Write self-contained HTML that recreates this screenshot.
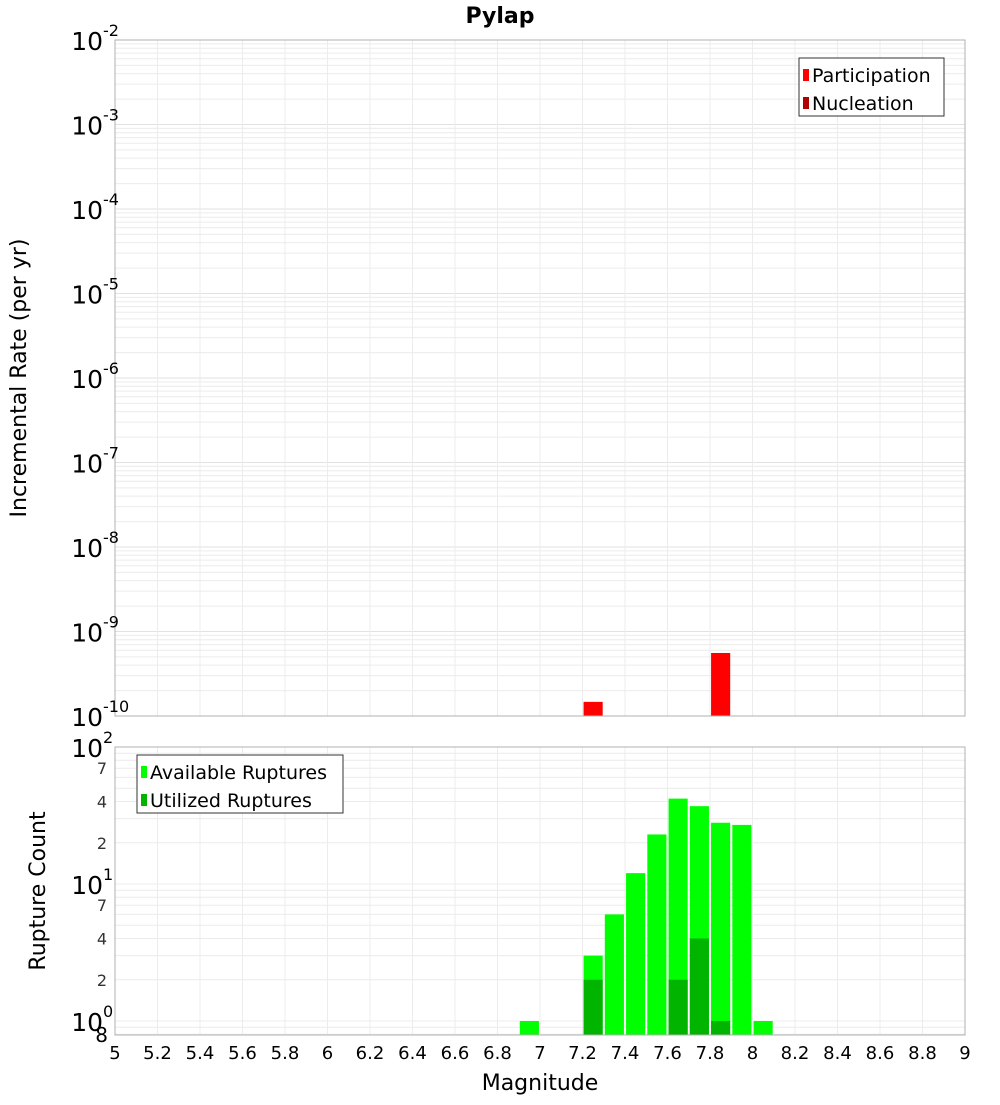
<!DOCTYPE html>
<html><head><meta charset="utf-8"><style>
body{margin:0;background:#fff;}
text{font-family:"DejaVu Sans","Liberation Sans",sans-serif;}
</style></head><body>
<svg id="chart" width="1000" height="1100" xmlns="http://www.w3.org/2000/svg"></svg>
<script>
const topMags=[7.25,7.85];
const topRates=[1.47e-10,5.57e-10];
const availMags=[6.95,7.25,7.35,7.45,7.55,7.65,7.75,7.85,7.95,8.05];
const availCounts=[1,3,6,12,23,42,37,28,27,1];
const utilMags=[7.25,7.65,7.75,7.85];
const utilCounts=[2,2,4,1];
const xTicks=[5,5.2,5.4,5.6,5.8,6,6.2,6.4,6.6,6.8,7,7.2,7.4,7.6,7.8,8,8.2,8.4,8.6,8.8,9];
const topExps=[-2,-3,-4,-5,-6,-7,-8,-9,-10];

const svg=document.getElementById('chart');
const NS='http://www.w3.org/2000/svg';
function mk(tag,attrs,parent){const e=document.createElementNS(NS,tag);for(const k in attrs)e.setAttribute(k,attrs[k]);(parent||svg).appendChild(e);return e;}
const X0=115,X1=965;
const xs=m=>X0+(m-5)/4*(X1-X0);
const T0=40,T1=716;
const ty=v=>T0+(-2-Math.log10(v))*(T1-T0)/8;
const B0=747,BD=137;
const by=v=>B0+(2-Math.log10(v))*BD;
const B1=1035;

let t=mk('text',{x:500,y:23,'text-anchor':'middle','font-size':22,'font-weight':'bold'});t.textContent='Pylap';


let g=mk('g',{});
for(let e=-10;e<-2;e++)for(let k=2;k<=9;k++){const y=ty(k*Math.pow(10,e));mk('line',{x1:X0,x2:X1,y1:y,y2:y,stroke:'#ececec','stroke-width':1},g);}
topExps.forEach(e=>{const y=ty(Math.pow(10,e));mk('line',{x1:X0,x2:X1,y1:y,y2:y,stroke:'#e2e2e2'},g);});
xTicks.forEach(m=>{mk('line',{x1:xs(m),x2:xs(m),y1:T0,y2:T1,stroke:'#ececec'},g);mk('line',{x1:xs(m),x2:xs(m),y1:B0,y2:B1,stroke:'#ececec'},g);});
let g2=mk('g',{});
for(let e=-1;e<2;e++)for(let k=1;k<=9;k++){const v=k*Math.pow(10,e);const y=by(v);if(y<B0||y>B1)continue;mk('line',{x1:X0,x2:X1,y1:y,y2:y,stroke:'#ececec'},g2);}

topMags.forEach((m,i)=>{const r=mk('rect',{x:xs(m-0.045),y:ty(topRates[i]),width:xs(m+0.045)-xs(m-0.045),height:T1-ty(topRates[i]),fill:'#ff0000'});
});
availMags.forEach((m,i)=>{const r=mk('rect',{x:xs(m-0.045),y:by(availCounts[i]),width:xs(m+0.045)-xs(m-0.045),height:B1-by(availCounts[i]),fill:'#00ff00'});
});
utilMags.forEach((m,i)=>{const r=mk('rect',{x:xs(m-0.045),y:by(utilCounts[i]),width:xs(m+0.045)-xs(m-0.045),height:B1-by(utilCounts[i]),fill:'#00b400'});
});

mk('rect',{x:X0,y:T0,width:X1-X0,height:T1-T0,fill:'none',stroke:'#b0b0b0'});
mk('rect',{x:X0,y:B0,width:X1-X0,height:B1-B0,fill:'none',stroke:'#b0b0b0'});

topExps.forEach(e=>{const y=ty(Math.pow(10,e));
const tx=mk('text',{x:103,y:y+10,'text-anchor':'end','font-size':25});tx.textContent='10';

const s=mk('text',{x:103,y:y-4,'font-size':16});s.textContent=String(e);
});
[[100,'2'],[10,'1'],[1,'0']].forEach(([v,ex])=>{const y=by(v);
const tx=mk('text',{x:103,y:y+10,'text-anchor':'end','font-size':25});tx.textContent='10';

const s=mk('text',{x:103,y:y-4,'font-size':16});s.textContent=ex;
});
[[70,'7'],[40,'4'],[20,'2'],[7,'7'],[4,'4'],[2,'2']].forEach(([v,l])=>{const tx=mk('text',{x:107,y:by(v)+6,'text-anchor':'end','font-size':16,fill:'#333'});tx.textContent=l;
});
let e8=mk('text',{x:108,y:1042,'text-anchor':'end','font-size':20});e8.textContent='8';


xTicks.forEach(m=>{const tx=mk('text',{x:xs(m),y:1059,'text-anchor':'middle','font-size':18});tx.textContent=String(m);
});
let xt=mk('text',{x:540,y:1090,'text-anchor':'middle','font-size':22});xt.textContent='Magnitude';

let yt=mk('text',{x:0,y:0,'text-anchor':'middle','font-size':22,transform:'translate(26,378) rotate(-90)'});yt.textContent='Incremental Rate (per yr)';

let yt2=mk('text',{x:0,y:0,'text-anchor':'middle','font-size':22,transform:'translate(45,891) rotate(-90)'});yt2.textContent='Rupture Count';


function legend(x,y,w,items,name){const lg=mk('g',{});
mk('rect',{x:x,y:y,width:w,height:58,fill:'#fff',stroke:'#333'},lg);
items.forEach(([c,l],i)=>{mk('rect',{x:x+4,y:y+11+i*28,width:6,height:12,fill:c},lg);
const tx=mk('text',{x:x+13,y:y+24+i*28,'font-size':19},lg);tx.textContent=l;});}
legend(799,58,145,[['#ff0000','Participation'],['#b00000','Nucleation']],'top-legend');
legend(137,755,206,[['#00ff00','Available Ruptures'],['#00b400','Utilized Ruptures']],'bottom-legend');
</script>
</body></html>
